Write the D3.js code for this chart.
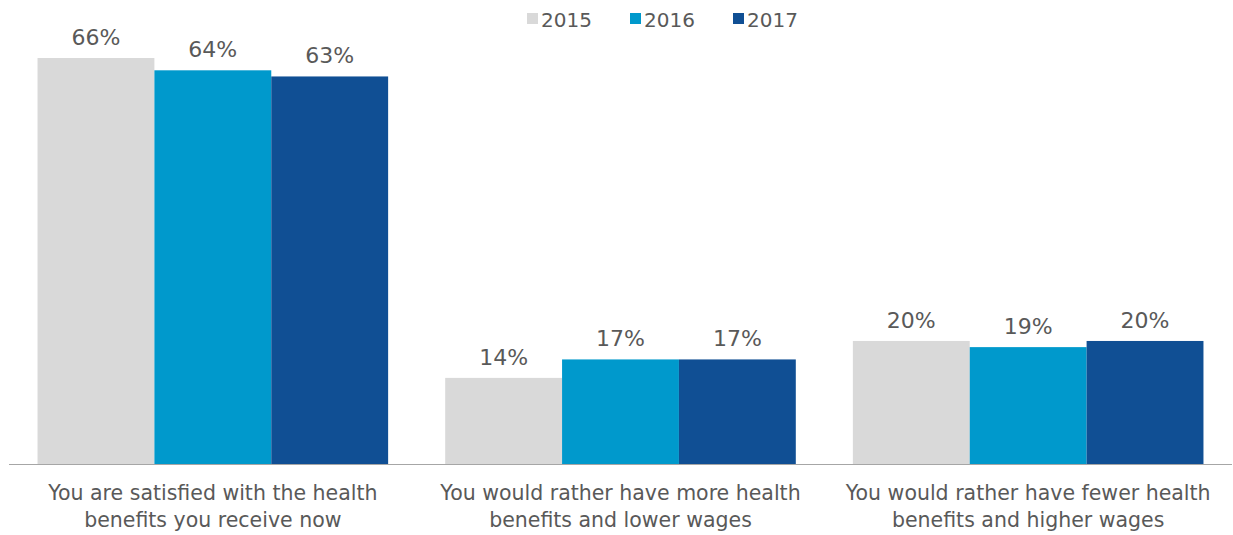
<!DOCTYPE html>
<html>
<head>
<meta charset="utf-8">
<script src="https://cdn.jsdelivr.net/npm/d3@7"></script>
<style>
  html, body { margin: 0; padding: 0; background: #ffffff; }
  svg { display: block; font-family: "DejaVu Sans", "Lato", sans-serif; }
</style>
</head>
<body>
<svg id="chart" width="1233" height="535"></svg>
<script>
// Survey answers, share of respondents by year
const categories = [
  ["You are satisfied with the health", "benefits you receive now"],
  ["You would rather have more health", "benefits and lower wages"],
  ["You would rather have fewer health", "benefits and higher wages"]
];
const years = ["2015", "2016", "2017"];
const values2015 = [66, 14, 20];
const values2016 = [64, 17, 19];
const values2017 = [63, 17, 20];
const colors = ["#d9d9d9", "#0099cc", "#104f94"];

const series = [values2015, values2016, values2017];
const svg = d3.select("#chart");

const baseline = 464;
const x0 = d3.scaleBand()
  .domain(d3.range(categories.length))
  .range([9, 1232])
  .paddingInner(0.14)
  .paddingOuter(0.07);
const x1 = d3.scaleBand()
  .domain(years)
  .range([0, x0.bandwidth()]);
const y = d3.scaleLinear().domain([0, 66]).range([baseline, 58]);

const groups = svg.selectAll("g.group")
  .data(categories.map((c, i) => ({ i, c })))
  .join("g")
  .attr("class", "group")
  .attr("transform", d => `translate(${x0(d.i)},0)`);

groups.selectAll("rect")
  .data(d => years.map((yr, k) => ({ yr, k, v: series[k][d.i] })))
  .join("rect")
  .attr("x", d => x1(d.yr))
  .attr("width", x1.bandwidth())
  .attr("y", d => y(d.v))
  .attr("height", d => baseline - y(d.v))
  .attr("fill", d => colors[d.k]);

groups.selectAll("text.val")
  .data(d => years.map((yr, k) => ({ yr, k, v: series[k][d.i] })))
  .join("text")
  .attr("class", "val")
  .attr("x", d => x1(d.yr) + x1.bandwidth() / 2)
  .attr("y", d => y(d.v) - 13)
  .attr("text-anchor", "middle")
  .attr("fill", "#595959")
  .attr("font-size", 22)
  .text(d => d.v + "%");

// Baseline axis
svg.append("line")
  .attr("x1", 9).attr("x2", 1232)
  .attr("y1", baseline + 0.5).attr("y2", baseline + 0.5)
  .attr("stroke", "#a6a6a6").attr("stroke-width", 1.2);

// Category labels (two lines each)
groups.append("text")
  .attr("text-anchor", "middle")
  .attr("fill", "#595959")
  .attr("font-size", 20.5)
  .selectAll("tspan")
  .data(d => d.c)
  .join("tspan")
  .attr("x", x0.bandwidth() / 2)
  .attr("y", (d, j) => 500 + j * 27)
  .text(d => d);

// Legend
const legendX = [527, 630, 733];
const legend = svg.selectAll("g.legend")
  .data(years)
  .join("g")
  .attr("class", "legend")
  .attr("transform", (d, i) => `translate(${legendX[i]},0)`);
legend.append("rect")
  .attr("x", 0).attr("y", 13)
  .attr("width", 11).attr("height", 11)
  .attr("fill", (d, i) => colors[i]);
legend.append("text")
  .attr("x", 14).attr("y", 27)
  .attr("fill", "#595959")
  .attr("font-size", 20)
  .text(d => d);
</script>
</body>
</html>
